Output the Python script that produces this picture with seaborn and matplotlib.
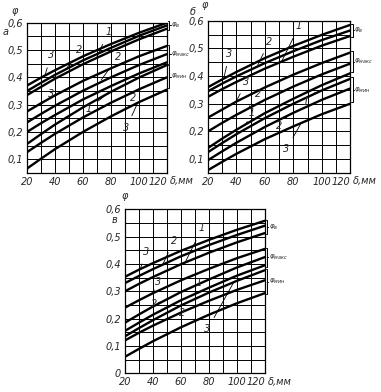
import matplotlib
matplotlib.use("Agg")
import matplotlib.pyplot as plt
import seaborn as sns
import pandas as pd
from matplotlib.ticker import FuncFormatter

sns.set_style("white")
plt.rcParams['font.family'] = ['DejaVu Sans']
plt.rcParams['font.style'] = 'italic'

# thickness of slab, mm
delta = [20, 30, 40, 60, 80, 100, 120]

# panel а
a_v3 = [0.370, 0.399, 0.426, 0.477, 0.522, 0.563, 0.600]
a_v2 = [0.350, 0.380, 0.409, 0.462, 0.508, 0.552, 0.590]
a_v1 = [0.335, 0.365, 0.395, 0.448, 0.495, 0.539, 0.578]
a_max3 = [0.275, 0.305, 0.334, 0.387, 0.433, 0.477, 0.515]
a_max2 = [0.235, 0.266, 0.296, 0.351, 0.400, 0.445, 0.485]
a_max1 = [0.200, 0.232, 0.262, 0.319, 0.368, 0.414, 0.455]
a_min1 = [0.156, 0.192, 0.227, 0.290, 0.347, 0.399, 0.445]
a_min2 = [0.126, 0.160, 0.193, 0.253, 0.307, 0.356, 0.400]
a_min3 = [0.066, 0.102, 0.137, 0.200, 0.257, 0.309, 0.355]

# panel б
b_v3 = [0.360, 0.388, 0.415, 0.465, 0.509, 0.549, 0.585]
b_v2 = [0.345, 0.373, 0.399, 0.447, 0.490, 0.530, 0.565]
b_v1 = [0.325, 0.353, 0.379, 0.427, 0.470, 0.510, 0.545]
b_max3 = [0.250, 0.279, 0.308, 0.359, 0.405, 0.447, 0.485]
b_max2 = [0.200, 0.231, 0.260, 0.314, 0.362, 0.406, 0.445]
b_max1 = [0.140, 0.174, 0.206, 0.266, 0.318, 0.367, 0.410]
b_min1 = [0.125, 0.158, 0.190, 0.248, 0.300, 0.348, 0.390]
b_min2 = [0.096, 0.128, 0.159, 0.216, 0.267, 0.314, 0.355]
b_min3 = [0.060, 0.090, 0.119, 0.172, 0.218, 0.262, 0.300]

# panel в
c_v3 = [0.353, 0.379, 0.403, 0.448, 0.488, 0.525, 0.558]
c_v2 = [0.330, 0.356, 0.381, 0.428, 0.469, 0.506, 0.540]
c_v1 = [0.300, 0.327, 0.352, 0.399, 0.441, 0.479, 0.513]
c_max3 = [0.240, 0.267, 0.293, 0.340, 0.382, 0.421, 0.455]
c_max2 = [0.185, 0.215, 0.244, 0.297, 0.343, 0.387, 0.425]
c_max1 = [0.155, 0.185, 0.214, 0.267, 0.313, 0.357, 0.395]
c_min1 = [0.135, 0.165, 0.194, 0.248, 0.295, 0.338, 0.377]
c_min2 = [0.120, 0.148, 0.174, 0.222, 0.265, 0.305, 0.340]
c_min3 = [0.060, 0.089, 0.117, 0.168, 0.214, 0.256, 0.293]

panels = {
    'а': {'v3': a_v3, 'v2': a_v2, 'v1': a_v1, 'max3': a_max3, 'max2': a_max2,
          'max1': a_max1, 'min1': a_min1, 'min2': a_min2, 'min3': a_min3},
    'б': {'v3': b_v3, 'v2': b_v2, 'v1': b_v1, 'max3': b_max3, 'max2': b_max2,
          'max1': b_max1, 'min1': b_min1, 'min2': b_min2, 'min3': b_min3},
    'в': {'v3': c_v3, 'v2': c_v2, 'v1': c_v1, 'max3': c_max3, 'max2': c_max2,
          'max1': c_max1, 'min1': c_min1, 'min2': c_min2, 'min3': c_min3},
}

rows = []
for p, curves in panels.items():
    for name, vals in curves.items():
        for d, v in zip(delta, vals):
            rows.append((p, name, d, v))
df = pd.DataFrame(rows, columns=['panel', 'curve', 'delta', 'phi'])

# curve number labels: (text, text x, text y, target x, target y)
labels = {
    'а': [('3', 37, 0.48, 33, 0.41), ('2', 57, 0.50, 48, 0.43), ('1', 78, 0.565, 70, 0.475),
          ('3', 37, 0.34, 31, 0.305), ('2', 85, 0.475, 73, 0.39), ('1', 64, 0.285, 75, 0.33),
          ('2', 96, 0.325, 101, 0.355), ('3', 91, 0.215, 99, 0.305)],
    'б': [('3', 35, 0.48, 31, 0.39), ('2', 63, 0.525, 55, 0.44), ('1', 84, 0.58, 72, 0.455),
          ('3', 47, 0.38, 40, 0.31), ('2', 55, 0.335, 49, 0.29), ('1', 51, 0.265, 47, 0.23),
          ('1', 89, 0.305, 95, 0.34), ('2', 70, 0.22, 76, 0.256), ('3', 75, 0.135, 85, 0.225)],
    'в': [('3', 35, 0.445, 31, 0.382), ('2', 55, 0.485, 47, 0.398), ('1', 75, 0.53, 63, 0.405),
          ('3', 44, 0.335, 40, 0.295), ('1', 73, 0.33, 70, 0.29), ('2', 41, 0.255, 45, 0.26),
          ('2', 61, 0.222, 66, 0.235), ('3', 79, 0.16, 98, 0.335)],
}

# braces on the right: (label, low, high)
braces = {
    'а': [('в', 0.575, 0.605), ('макс', 0.45, 0.52), ('мин', 0.36, 0.445)],
    'б': [('в', 0.54, 0.59), ('макс', 0.415, 0.49), ('мин', 0.305, 0.395)],
    'в': [('в', 0.51, 0.56), ('макс', 0.39, 0.46), ('мин', 0.29, 0.38)],
}

# positions of panel letter and φ in axes fractions
letter_pos = {'а': (-0.15, 0.915), 'б': (-0.11, 1.04), 'в': (-0.075, 0.915)}
phi_pos = {'а': (-0.085, 1.055), 'б': (-0.02, 1.085), 'в': (0.0, 1.065)}

fig = plt.figure(figsize=(3.81, 3.92), dpi=100)
axes = {
    'а': fig.add_axes([0.071, 0.559, 0.367, 0.383]),
    'б': fig.add_axes([0.546, 0.559, 0.373, 0.388]),
    'в': fig.add_axes([0.328, 0.048, 0.367, 0.418]),
}

fmt = FuncFormatter(lambda v, pos: '0' if abs(v) < 1e-9 else ('%.1f' % v).replace('.', ','))

for p, ax in axes.items():
    sub = df[df.panel == p]
    sns.lineplot(data=sub, x='delta', y='phi', hue='curve', units='curve', estimator=None,
                 palette=['black'] * 9, legend=False, linewidth=1.7, ax=ax)
    ax.set_xlim(20, 120)
    ymin = 0.0 if p == 'в' else 0.05
    ax.set_ylim(ymin, 0.6)
    ax.set_xticks(range(20, 121, 20))
    ax.set_xticks(range(30, 120, 20), minor=True)
    ax.set_yticks([0.1, 0.2, 0.3, 0.4, 0.5, 0.6] if p != 'в' else [0, 0.1, 0.2, 0.3, 0.4, 0.5, 0.6])
    ax.set_yticks([0.05 + 0.1 * i for i in range(6)], minor=True)
    ax.yaxis.set_major_formatter(fmt)
    ax.grid(which='both', color='black', linewidth=0.7)
    ax.tick_params(which='both', length=0, labelsize=7)
    ax.tick_params(axis='y', pad=3)
    ax.tick_params(axis='x', pad=3)
    for lab in ax.get_xticklabels() + ax.get_yticklabels():
        lab.set_style('italic')
    # "120" sits flush with the right end, followed by δ, мм
    ax.get_xticklabels()[-1].set_horizontalalignment('right')
    for s in ax.spines.values():
        s.set_color('black')
        s.set_linewidth(0.9)
    ax.set_xlabel('')
    ax.set_ylabel('')
    ax.text(1.02, -0.052, 'δ,мм', transform=ax.transAxes, fontsize=7,
            style='italic', va='center', ha='left')
    ax.text(*phi_pos[p], 'φ', transform=ax.transAxes, fontsize=7, style='italic', ha='center')
    ax.text(*letter_pos[p], p, transform=ax.transAxes, fontsize=7, style='italic', ha='center')

    for t, tx, ty, px, py in labels[p]:
        ax.annotate(t, xy=(px, py), xytext=(tx, ty), fontsize=7, style='italic',
                    ha='center', va='center',
                    arrowprops=dict(arrowstyle='-', color='black', lw=0.6,
                                    shrinkA=3, shrinkB=0))

    for name, lo, hi in braces[p]:
        x0, x1 = 120.8, 121.8
        ax.plot([x0, x1, x1, x0], [lo, lo, hi, hi], color='black', lw=0.7, clip_on=False)
        mid = (lo + hi) / 2
        ax.plot([x1, x1 + 0.8], [mid, mid], color='black', lw=0.7, clip_on=False)
        ax.text(x1 + 1.1, mid, r'$\varphi_{\rm ' + name + '}$', fontsize=5,
                va='center', ha='left', clip_on=False)

fig.savefig('out.png', dpi=100, facecolor='white')
